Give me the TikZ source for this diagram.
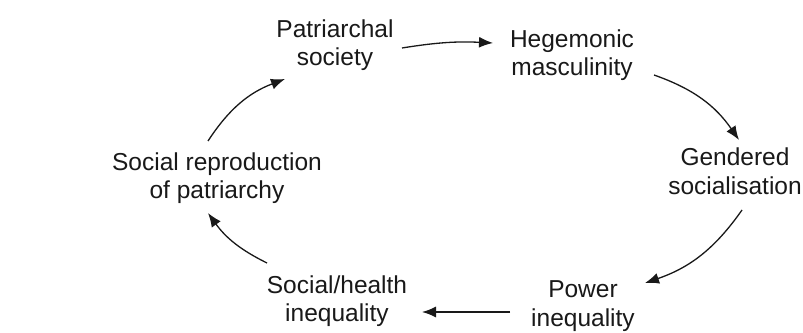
\documentclass[tikz,border=0pt]{standalone}
\usepackage{fontspec}
\setmainfont{Liberation Sans}
\usetikzlibrary{arrows.meta,calc}
\tikzset{
  lbl/.style={align=center, inner sep=0pt, text=black!90,
    font=\fontsize{24.5}{28.5}\selectfont},
  conn/.style={line width=1.3pt, draw=black!90,
    -{Latex[length=14pt,width=11pt]}},
}
\begin{document}
\begin{tikzpicture}[x=1pt,y=1pt]
\useasboundingbox (0,0) rectangle (803,332);
\fill[white] (0,0) rectangle (803,332);
\node[lbl] (P) at (335,{332-45}) {Patriarchal\\society};
\node[lbl] (H) at (572,{332-55}) {Hegemonic\\masculinity};
\node[lbl] (G) at (735,{332-171}) {Gendered\\socialisation};
\node[lbl] (W) at (583,{332-306}) {Power\\inequality};
\node[lbl] (S) at (337,{332-301}) {Social/health\\inequality};
\node[lbl] (R) at (217,{332-178}) {Social reproduction\\of patriarchy};
\draw[conn] ($(P.center)+(67,-3)$) to[bend left=6] ($(H.center)+(-79,12)$);
\draw[conn] ($(H.center)+(82,-20)$) to[bend left=18] ($(G.center)+(4,31)$);
\draw[conn] ($(G.center)+(7,-39)$) to[bend left=18] ($(W.center)+(62,23)$);
\draw[conn] ($(W.center)+(-73,-6)$) -- ($(S.center)+(85,-11)$);
\draw[conn] ($(S.center)+(-70,38)$) to[bend left=14] ($(R.center)+(-9,-35)$);
\draw[conn] ($(R.center)+(-9,37)$) to[bend left=18] ($(P.center)+(-50,-34)$);
\end{tikzpicture}
\end{document}
